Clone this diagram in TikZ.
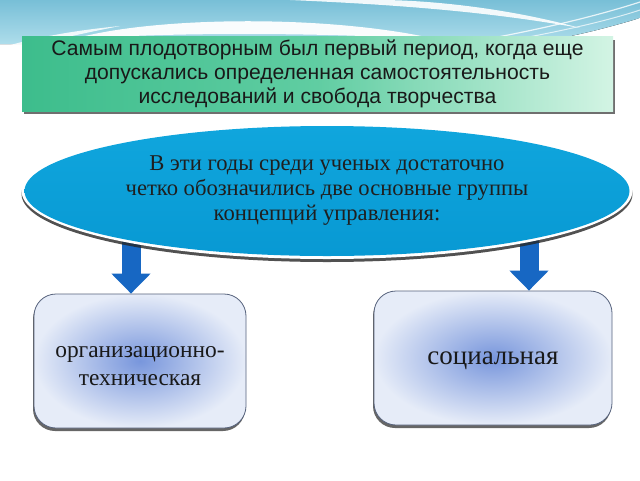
\documentclass[tikz,border=0pt]{standalone}
\usepackage{fontspec}
\setmainfont{Liberation Serif}
\newfontfamily\greenfont{Liberation Sans}
\usetikzlibrary{shapes.geometric,shadows,arrows.meta,calc}
\definecolor{skytop}{HTML}{78BFD7}
\definecolor{skybot}{HTML}{AEDDEB}
\definecolor{gleft}{HTML}{3DBD8C}
\definecolor{gmid}{HTML}{60CDA2}
\definecolor{gright}{HTML}{D3F4E4}
\definecolor{elltop}{HTML}{10A6DD}
\definecolor{ellbot}{HTML}{0899D3}
\definecolor{arrowblue}{HTML}{1767C3}
\definecolor{boxin}{HTML}{7896DC}
\definecolor{boxout}{HTML}{E6ECF8}
\definecolor{boxline}{HTML}{56627C}
\tikzset{
  greenbox/.style={rectangle, left color=gleft, right color=gright, middle color=gmid,
    draw=none, drop shadow={shadow xshift=2pt, shadow yshift=-3pt, opacity=0.7, fill=black!80},
    align=center, font=\greenfont\fontsize{21.1}{24}\selectfont, text=black!90},
  ovalrim/.style={ellipse, fill=white, draw=none,
    drop shadow={shadow xshift=0pt, shadow yshift=-3pt, opacity=0.8, fill=black!85}},
  ovalbox/.style={ellipse, top color=elltop, bottom color=ellbot, draw=none,
    align=center, font=\fontsize{22.6}{25}\selectfont, text=black!88},
  bluebox/.style={rectangle, rounded corners=22pt, inner color=boxin, outer color=boxout,
    draw=boxline, line width=0.8pt,
    drop shadow={shadow xshift=-1pt, shadow yshift=-3pt, opacity=0.7, fill=black!85}},
  boxtext/.style={align=center, text=black!90},
  downarrow/.style={draw=arrowblue, line width=19pt, -{Triangle[length=20pt,width=38pt]}},
}
\begin{document}
\begin{tikzpicture}[x=1pt,y=-1pt]
\useasboundingbox (0,0) rectangle (640,480);
\fill[white] (0,0) rectangle (640,480);
% sky band
\fill[top color=skytop, bottom color=skybot] (0,0) -- (640,0) -- (640,18)
  .. controls (600,30) and (560,40) .. (520,44) -- (0,44) -- cycle;
\fill[white, opacity=0.95] (70,40) .. controls (150,16) and (330,14) .. (440,40)
  .. controls (330,32) and (150,32) .. (70,40) -- cycle;
\fill[white, opacity=0.9] (290,0) .. controls (380,4) and (480,10) .. (580,28)
  .. controls (500,6) and (420,0) .. (380,0) -- cycle;
\fill[white, opacity=0.85] (0,48) .. controls (40,36) and (80,30) .. (120,26)
  .. controls (80,34) and (40,42) .. (20,52) -- (0,52) -- cycle;
\draw[white, line width=1.2pt, opacity=0.8] (470,42) .. controls (540,30) and (600,15) .. (640,2);
\draw[white, line width=1pt, opacity=0.7] (500,42) .. controls (560,32) and (610,20) .. (640,10);
\fill[white] (560,44) .. controls (600,34) and (625,25) .. (640,18) -- (640,44) -- cycle;

% lower boxes
\node[bluebox, minimum width=212pt, minimum height=134pt] (lbox) at (140,361) {};
\node[boxtext, font=\fontsize{23.4}{28}\selectfont] (ltext) at (140,366)
  {организационно-\\техническая};
\node[bluebox, minimum width=238pt, minimum height=134pt] (rbox) at (493,358) {};
\node[boxtext, font=\fontsize{27}{30}\selectfont] (rtext) at (493,361) {социальная};

% arrows (behind ellipse)
\coordinate (la) at (131,236);
\coordinate (ra) at (529,236);
\draw[downarrow] (la) -- (la |- lbox.north);
\draw[downarrow] (ra) -- (ra |- rbox.north);

% title box
\node[greenbox, minimum width=591pt, minimum height=72pt] (title) at (317.5,74)
  {Самым плодотворным был первый период, когда еще\\
   допускались определенная самостоятельность\\
   исследований и свобода творчества};

% ellipse: white rim, then shaded blue oval carrying the text
\node[ovalrim, minimum width=611pt, minimum height=136pt] (rim) at (327,191) {};
\node[ovalbox, minimum width=605pt, minimum height=130pt] (ell) at (rim.center)
  {В эти годы среди ученых достаточно\\
   четко обозначились две основные группы\\
   концепций управления:};
\end{tikzpicture}
\end{document}
